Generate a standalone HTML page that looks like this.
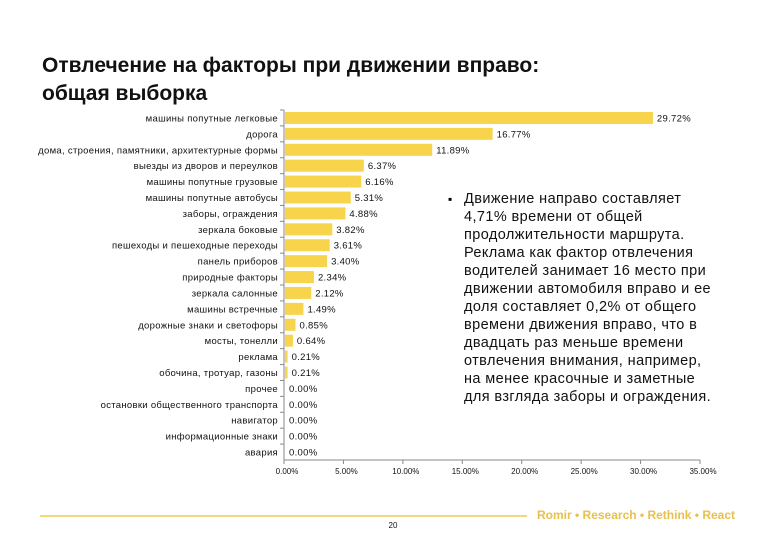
<!DOCTYPE html>
<html><head><meta charset="utf-8">
<style>
body{margin:0;width:780px;height:540px;background:#fff;overflow:hidden;position:relative;font-family:"Liberation Sans",sans-serif}
#title{position:absolute;left:42px;top:52px;font-size:21px;font-weight:bold;line-height:28px;color:#111}
#note{position:absolute;left:464px;top:190px;white-space:nowrap;font-size:14.5px;letter-spacing:0.4px;line-height:18px;color:#111}
#bullet{position:absolute;left:448px;top:190px;font-size:12px;line-height:18px}
#foot{position:absolute;left:537px;top:508px;font-size:12px;font-weight:bold;color:#e8c04a}
</style></head><body>
<div id="title">Отвлечение на факторы при движении вправо:<br>общая выборка</div>
<div id="bullet">▪</div>
<div id="note">Движение направо составляет<br>4,71% времени от общей<br>продолжительности маршрута.<br>Реклама как фактор отвлечения<br>водителей занимает 16 место при<br>движении автомобиля вправо и ее<br>доля составляет 0,2% от общего<br>времени движения вправо, что в<br>двадцать раз меньше времени<br>отвлечения внимания, например,<br>на менее красочные и заметные<br>для взгляда заборы и ограждения.</div>
<div id="foot">Romir • Research • Rethink • React</div>
<svg id="chart" width="780" height="540" style="position:absolute;left:0;top:0"></svg>
<script>
const categories=["машины попутные легковые","дорога","дома, строения, памятники, архитектурные формы","выезды из дворов и переулков","машины попутные грузовые","машины попутные автобусы","заборы, ограждения","зеркала боковые","пешеходы и пешеходные переходы","панель приборов","природные факторы","зеркала салонные","машины встречные","дорожные знаки и светофоры","мосты, тонелли","реклама","обочина, тротуар, газоны","прочее","остановки общественного транспорта","навигатор","информационные знаки","авария"];
const values=[29.72,16.77,11.89,6.37,6.16,5.31,4.88,3.82,3.61,3.40,2.34,2.12,1.49,0.85,0.64,0.21,0.21,0,0,0,0,0];
const ticks=[0,5,10,15,20,25,30,35];
const tickLabels=["0.00%","5.00%","10.00%","15.00%","20.00%","25.00%","30.00%","35.00%"];
const NS="http://www.w3.org/2000/svg";
const svg=document.getElementById('chart');
const x0=284, rowTop=110, rowH=(460-110)/categories.length;
function xBar(v){return x0+v*12.38;}
function xTick(v){return x0+v*11.886;}
function yRow(i){return rowTop+i*rowH;}
function mk(t,a){const e=document.createElementNS(NS,t);for(const k in a)e.setAttribute(k,a[k]);svg.appendChild(e);return e;}
categories.forEach((c,i)=>{
  const yc=yRow(i)+rowH/2;
  const b=mk('rect',{x:x0+1,y:yc-6,width:Math.max(0,xBar(values[i])-x0),height:12,fill:'#f8d44c'});
  
  
  const l=mk('text',{x:278,y:yc+3.5,'text-anchor':'end','font-size':'9.5','letter-spacing':'0.3','fill':'#111'});
  l.textContent=c;
  
  
  const v=mk('text',{x:xBar(values[i])+5,y:yc+3.5,'font-size':'9.5','letter-spacing':'0.3','fill':'#111'});
  v.textContent=values[i].toFixed(2)+'%';
  
  
  const tk=mk('line',{x1:x0-4,x2:x0,y1:yRow(i),y2:yRow(i),stroke:'#888'});
  
  
});
const ya=mk('line',{x1:x0,x2:x0,y1:rowTop,y2:460,stroke:'#888'});


const xa=mk('line',{x1:x0,x2:xTick(35),y1:460,y2:460,stroke:'#888'});


ticks.forEach((t,i)=>{
  const l=mk('line',{x1:xTick(t),x2:xTick(t),y1:460,y2:464,stroke:'#888'});
  
  
  const tx=mk('text',{x:xTick(t)+3,y:474,'text-anchor':'middle','font-size':'8','fill':'#111'});
  tx.textContent=tickLabels[i];
  
  
});
const fl=mk('line',{x1:40,x2:527,y1:516,y2:516,stroke:'#f0cc50','stroke-width':'1.5'});


const pn=mk('text',{x:393,y:528,'text-anchor':'middle','font-size':'8','fill':'#111'});
pn.textContent='20';


</script>
</body></html>
